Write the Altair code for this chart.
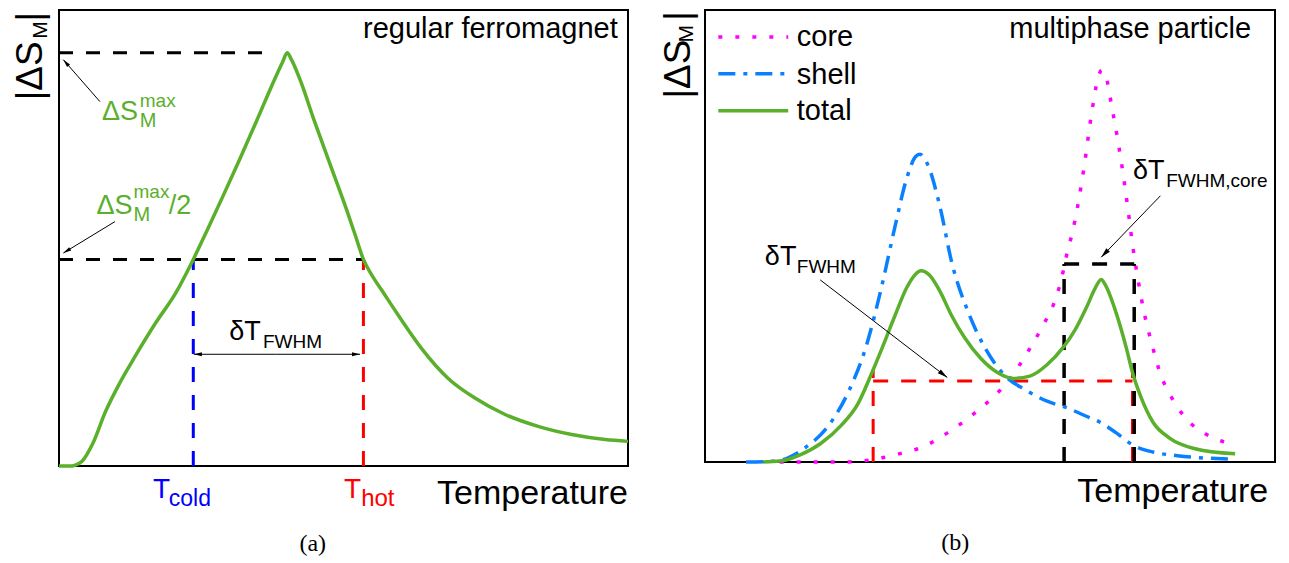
import math
import altair as alt
import pandas as pd

# ---------------- panel (a): regular ferromagnet ----------------
A_T = [0, 2.3, 2.9, 4.1, 5.85, 8.2, 10.5, 13.5, 17.0, 20.5, 23.6, 26.0, 28.9, 31.8,
       34.7, 37.4, 39.3, 40.1, 40.9, 42.4, 44.7, 47.6, 50.6, 52.1, 53.5, 55.0, 56.7,
       59.6, 63.7, 68.4, 73.1, 78.4, 84.2, 90.1, 96.0, 100]
A_S = [0, 0, 0.2, 1.1, 4.7, 12.0, 17.8, 24.3, 31.4, 37.9, 45.3, 51.6, 59.4, 67.4,
       75.6, 83.4, 88.6, 90.6, 89.0, 84.6, 76.3, 66.3, 56.0, 50.5, 45.3, 41.8, 38.6,
       33.1, 25.8, 19.2, 14.9, 11.3, 8.7, 6.9, 5.8, 5.4]
A_PEAK = 90.6
A_HALF = 45.3
A_PEAK_LINE_END = 37.4
A_TCOLD = 23.6
A_THOT = 53.5

# ---------------- panel (b): multiphase particle ----------------
B_CORE_T = [13.1, 23.9, 29.7, 34.0, 38.3, 42.6, 46.9, 50.5, 53.4, 56.3, 59.2, 61.3,
            62.3, 63.0, 63.6, 64.3, 64.9, 66.4, 67.8, 68.9, 69.6, 70.3, 71.4, 72.9,
            74.3, 75.0, 75.9, 77.0, 78.4, 80.0, 81.5, 84.4, 88.0, 93.0]
B_CORE_S = [0, 0, 0.6, 1.8, 3.4, 6.5, 10.4, 14.3, 18.2, 23.7, 30.0, 35.4,
            39.4, 43.1, 46.7, 50.0, 53.4, 64.4, 76.9, 84.7, 86.7, 85.5, 78.4, 67.5,
            55.0, 48.1, 40.9, 33.3, 26.1, 19.1, 15.1, 9.6, 6.1, 3.8]
B_SHELL_T = [7.2, 12.4, 17.4, 21.7, 25.3, 28.2, 31.1, 33.3, 35.4, 36.9, 37.7, 39.0,
             41.2, 43.3, 46.2, 49.1, 52.7, 56.3, 59.9, 63.5, 66.4, 69.3, 72.1, 75.0,
             78.6, 82.9, 93.0]
B_SHELL_S = [0, 0.2, 3.0, 8.1, 15.9, 25.3, 39.4, 51.9, 62.8, 67.5, 68.1, 66.0,
             56.6, 44.1, 33.1, 25.3, 19.0, 15.9, 13.5, 12.0, 10.4, 8.8, 6.5, 3.8,
             2.2, 1.4, 0.6]
B_TOTAL_T = [10.2, 13.1, 16.7, 20.3, 23.9, 26.8, 29.3, 31.1, 33.3, 35.4, 36.9, 37.9,
             39.4, 41.2, 43.3, 45.5, 48.4, 51.3, 54.1, 57.0, 59.9, 62.8, 64.9, 67.1,
             68.5, 69.5, 70.3, 72.1, 73.9, 75.0, 76.5, 78.6, 81.5, 85.8, 93.0]
B_TOTAL_S = [0, 0.2, 1.6, 4.1, 8.1, 12.8, 19.8, 25.3, 32.3, 38.6, 41.5, 42.3,
             41.3, 37.8, 32.3, 27.6, 22.9, 19.8, 18.5, 19.0, 21.4, 25.3, 29.2, 34.7,
             38.6, 40.4, 39.0, 33.1, 25.3, 19.8, 14.3, 8.8, 5.3, 3.0, 1.8]
B_FWHM_Y, B_FWHM_TOP, B_FWHM_L, B_FWHM_R = 17.9, 20.5, 29.5, 75.0
B_CORE_Y, B_CORE_L, B_CORE_R = 43.8, 63.0, 75.3
LEGEND_NAMES = ["core", "shell", "total"]
LEGEND_LINE_Y = [94.0, 85.9, 77.7]
LEGEND_TEXT_Y = [92.1, 83.7, 75.7]

GREEN = "#5aaf2b"
SHELL = "#0a80ff"
CORE = "#ff00ff"
RED = "#ff0000"
BLUE = "#0000ff"
SANS = "Liberation Sans"
SERIF = "Liberation Serif"

W, H = 636, 547
# scale domains (frame = 0..100 in both directions)
A_DX, A_DY = [-8.963, 102.812], [-19.737, 100.219]
B_DX, B_DY = [-10.702, 100.877], [-20.796, 100.221]
ARROW = "M0,0L-0.5,2L0.5,2Z"


def enc_xy(DX, DY, xf="x", yf="y"):
    return dict(
        x=alt.X(f"{xf}:Q", scale=alt.Scale(domain=DX, nice=False, zero=False), axis=None),
        y=alt.Y(f"{yf}:Q", scale=alt.Scale(domain=DY, nice=False, zero=False), axis=None),
    )


def curve(T, S, color, width, dash, DX, DY):
    df = pd.DataFrame({"x": T, "y": S})
    kw = dict(interpolate="monotone", color=color, strokeWidth=width, strokeCap="butt")
    if dash:
        kw["strokeDash"] = dash
    return alt.Chart(df).mark_line(**kw).encode(**enc_xy(DX, DY))


def segs(rows, color, width, dash, DX, DY):
    df = pd.DataFrame(rows, columns=["x", "y", "x2", "y2"])
    kw = dict(color=color, strokeWidth=width, strokeCap="butt")
    if dash:
        kw["strokeDash"] = dash
    return alt.Chart(df).mark_rule(**kw).encode(
        **enc_xy(DX, DY), x2="x2:Q", y2="y2:Q")


def frame(DX, DY):
    df = pd.DataFrame({"x": [0], "y": [0], "x2": [100], "y2": [100]})
    return alt.Chart(df).mark_rect(fillOpacity=0, stroke="black", strokeWidth=2).encode(
        **enc_xy(DX, DY), x2="x2:Q", y2="y2:Q")


def arrows(rows, DX, DY, size):
    """rows: (x0, y0, x1, y1) with head at (x1, y1)"""
    sx = W / (DX[1] - DX[0])
    sy = H / (DY[1] - DY[0])
    lines = segs(rows, "black", 1, None, DX, DY)
    heads = []
    for x0, y0, x1, y1 in rows:
        dx = (x1 - x0) * sx
        dy = -(y1 - y0) * sy
        ang = math.degrees(math.atan2(dx, -dy)) % 360
        heads.append({"x": x1, "y": y1, "ang": ang})
    pts = alt.Chart(pd.DataFrame(heads)).mark_point(
        shape=ARROW, filled=True, color="black", size=size, opacity=1, strokeWidth=0
    ).encode(**enc_xy(DX, DY), angle=alt.Angle("ang:Q", scale=None))
    return [lines, pts]


def texts(rows, align, font, DX, DY):
    df = pd.DataFrame(rows, columns=["x", "y", "t", "s", "c", "a"])
    return alt.Chart(df).mark_text(align=align, baseline="alphabetic", font=font).encode(
        **enc_xy(DX, DY),
        text="t:N",
        size=alt.Size("s:Q", scale=None, legend=None),
        color=alt.Color("c:N", scale=None, legend=None),
        angle=alt.Angle("a:Q", scale=None),
    )


# ---------------- build panel (a) ----------------
DX, DY = A_DX, A_DY
a_layers = [
    frame(DX, DY),
    segs([(0, A_PEAK, A_PEAK_LINE_END, A_PEAK), (0, A_HALF, A_THOT, A_HALF)],
         "black", 3, [14, 13], DX, DY),
    segs([(A_TCOLD, 0, A_TCOLD, A_HALF)], BLUE, 3, [15, 13], DX, DY),
    segs([(A_THOT, 0, A_THOT, A_HALF)], RED, 3, [15, 13], DX, DY),
    curve(A_T, A_S, GREEN, 3.5, None, DX, DY),
]
a_layers += arrows([(7.2, 79.9, 0.76, 89.1), (9.84, 53.6, 0.76, 46.7)], DX, DY, 64)
a_layers += arrows([(38.0, 24.5, A_TCOLD + 0.1, 24.5), (38.0, 24.5, A_THOT - 0.6, 24.5)],
                   DX, DY, 64)
a_layers += [
    texts([
        (-2.99, 80.2, "|ΔS", 37, "black", 270),
        (-2.1, 93.7, "M", 21, "black", 270),
        (-2.99, 97.5, "|", 37, "black", 270),
        (7.56, 75.9, "ΔS", 27, GREEN, 0),
        (14.2, 78.8, "max", 19, GREEN, 0),
        (14.2, 74.3, "M", 20, GREEN, 0),
        (6.6, 55.2, "ΔS", 27, GREEN, 0),
        (13.1, 58.8, "max", 19, GREEN, 0),
        (13.1, 53.7, "M", 20, GREEN, 0),
        (19.3, 55.2, "/2", 27, GREEN, 0),
        (29.9, 27.7, "δT", 27, "black", 0),
        (35.85, 25.9, "FWHM", 19, "black", 0),
        (16.5, -7.0, "T", 28, BLUE, 0),
        (19.3, -8.7, "cold", 23, BLUE, 0),
        (50.1, -7.0, "T", 28, RED, 0),
        (53.1, -8.7, "hot", 24, RED, 0),
    ], "left", SANS, DX, DY),
    texts([
        (98.2, 93.9, "regular ferromagnet", 29, "black", 0),
        (100, -8.3, "Temperature", 34, "black", 0),
    ], "right", SANS, DX, DY),
    texts([(44.6, -18.6, "(a)", 24, "black", 0)], "center", SERIF, DX, DY),
]
panel_a = alt.layer(*a_layers).properties(width=W, height=H)

# ---------------- build panel (b) ----------------
DX, DY = B_DX, B_DY
b_layers = [
    frame(DX, DY),
    segs([(B_FWHM_L, B_FWHM_Y, B_FWHM_R, B_FWHM_Y), (B_FWHM_L, 0, B_FWHM_L, B_FWHM_TOP),
          (B_FWHM_R, 0, B_FWHM_R, B_FWHM_TOP)], RED, 3, [15, 13], DX, DY),
    segs([(B_CORE_L, B_CORE_Y, B_CORE_R, B_CORE_Y), (B_CORE_L, 0, B_CORE_L, B_CORE_Y),
          (B_CORE_R, 0, B_CORE_R, B_CORE_Y)], "black", 3.5, [15, 13], DX, DY),
    curve(B_CORE_T, B_CORE_S, CORE, 3.5, [4, 13], DX, DY),
    curve(B_SHELL_T, B_SHELL_S, SHELL, 3.5, [17, 8, 4, 8], DX, DY),
    curve(B_TOTAL_T, B_TOTAL_S, GREEN, 3.5, None, DX, DY),
    segs([(2.34, LEGEND_LINE_Y[0], 14.6, LEGEND_LINE_Y[0])], CORE, 3.5, [4, 13], DX, DY),
    segs([(2.34, LEGEND_LINE_Y[1], 14.6, LEGEND_LINE_Y[1])], SHELL, 3.5, [17, 8, 4, 8], DX, DY),
    segs([(2.34, LEGEND_LINE_Y[2], 14.6, LEGEND_LINE_Y[2])], GREEN, 3.5, None, DX, DY),
]
b_layers += arrows([(20.2, 40.3, 42.5, 18.7), (79.9, 58.9, 69.5, 45.3)], DX, DY, 100)
b_layers += [
    texts([
        (-2.63, 80.4, "|ΔS", 37, "black", 270),
        (-2.1, 92.8, "M", 21, "black", 270),
        (-2.63, 97.6, "|", 37, "black", 270),
        (16.1, LEGEND_TEXT_Y[0], LEGEND_NAMES[0], 29, "black", 0),
        (16.1, LEGEND_TEXT_Y[1], LEGEND_NAMES[1], 29, "black", 0),
        (16.1, LEGEND_TEXT_Y[2], LEGEND_NAMES[2], 29, "black", 0),
        (10.5, 43.6, "δT", 27, "black", 0),
        (16.1, 41.8, "FWHM", 19, "black", 0),
        (75.1, 62.6, "δT", 27, "black", 0),
        (80.9, 60.9, "FWHM,core", 19, "black", 0),
    ], "left", SANS, DX, DY),
    texts([
        (95.8, 93.7, "multiphase particle", 29, "black", 0),
        (98.8, -8.9, "Temperature", 34, "black", 0),
    ], "right", SANS, DX, DY),
    texts([(43.9, -19.5, "(b)", 24, "black", 0)], "center", SERIF, DX, DY),
]
panel_b = alt.layer(*b_layers).properties(width=W, height=H)

chart = alt.hconcat(panel_a, panel_b, spacing=0, bounds="flush").properties(
    padding=0
).configure_view(stroke=None)

chart.save("out.html", embed_options={"renderer": "svg", "actions": False})
